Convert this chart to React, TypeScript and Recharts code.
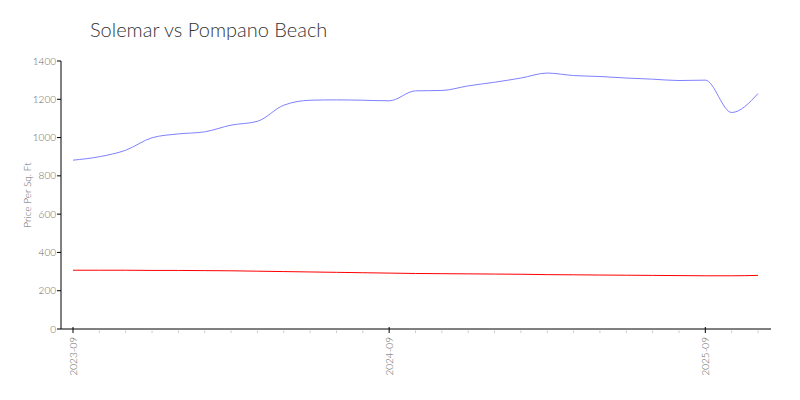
import React from 'react'
import { LineChart, Line, XAxis, YAxis } from 'recharts'

const months = [
  '2023-09', '2023-10', '2023-11', '2023-12', '2024-01', '2024-02', '2024-03', '2024-04', '2024-05',
  '2024-06', '2024-07', '2024-08', '2024-09', '2024-10', '2024-11', '2024-12', '2025-01', '2025-02',
  '2025-03', '2025-04', '2025-05', '2025-06', '2025-07', '2025-08', '2025-09', '2025-10', '2025-11',
]

// Solemar
const solemar = [
  882, 900, 934, 999, 1019, 1030, 1065, 1085, 1169, 1195, 1197, 1195, 1192, 1244,
  1246, 1270, 1289, 1311, 1337, 1324, 1319, 1311, 1305, 1298, 1300, 1131, 1230,
]

// Pompano Beach
const pompano = [
  307, 307, 307, 306, 306, 305, 304, 302, 300, 298, 296, 294, 292, 290,
  289, 288, 287, 286, 284, 283, 282, 281, 280, 279, 278, 278, 280,
]

const yTicks = [0, 200, 400, 600, 800, 1000, 1200, 1400]

const data = months.map((m, i) => ({ month: m, solemar: solemar[i], pompano: pompano[i] }))

const FONT = 'Lato, sans-serif'

const MonthTick = ({ x, y, payload }: any) => {
  const major = payload.value.endsWith('-09')
  return (
    <g>
      {major ? (
        <line x1={x} x2={x} y1={y - 2} y2={y + 4} stroke="#000" strokeWidth={1} />
      ) : (
        <line x1={x} x2={x} y1={y + 1.5} y2={y + 4} stroke="#ccc" strokeWidth={1} />
      )}
      {major && (
        <text
          x={x}
          y={y + 8}
          transform={`rotate(-90, ${x}, ${y + 8})`}
          textAnchor="end"
          dominantBaseline="central"
          fontSize={10}
          fontFamily={FONT}
          fontWeight={300}
          fill="#666"
        >
          {payload.value}
        </text>
      )}
    </g>
  )
}

export default function App() {
  return (
    <div style={{ position: 'absolute', left: 0, top: 0, width: 800, height: 400, background: '#fff' }}>
      <div
        style={{
          position: 'absolute',
          left: 90,
          top: 15,
          fontFamily: FONT,
          fontWeight: 300,
          fontSize: 20,
          color: '#333',
          lineHeight: '28px',
        }}
      >
        Solemar vs Pompano Beach
      </div>
      <LineChart width={800} height={400} data={data} margin={{ top: 61, right: 29, left: 21, bottom: 21 }}>
        <XAxis
          dataKey="month"
          interval={0}
          tick={<MonthTick />}
          tickLine={false}
          tickSize={0}
          tickMargin={0}
          height={50}
          padding={{ left: 12, right: 13 }}
          axisLine={{ stroke: '#000' }}
        />
        <YAxis
          width={40}
          domain={[0, 1400]}
          ticks={yTicks}
          interval={0}
          tickSize={4}
          tickMargin={1}
          tickLine={{ stroke: '#000' }}
          axisLine={{ stroke: '#000' }}
          tick={{ fontSize: 10, fontFamily: FONT, fontWeight: 300, fill: '#666' }}
          label={{
            value: 'Price Per Sq. Ft',
            angle: -90,
            position: 'insideLeft',
            offset: 6,
            textAnchor: 'middle',
            style: { fontSize: 10, fontFamily: FONT, fontWeight: 300, fill: '#666', textAnchor: 'middle' },
          }}
        />
        <Line
          type="monotone"
          dataKey="solemar"
          stroke="#8080ff"
          strokeWidth={1}
          dot={false}
          isAnimationActive={false}
        />
        <Line
          type="monotone"
          dataKey="pompano"
          stroke="#ff0000"
          strokeWidth={1}
          dot={false}
          isAnimationActive={false}
        />
      </LineChart>
    </div>
  )
}
